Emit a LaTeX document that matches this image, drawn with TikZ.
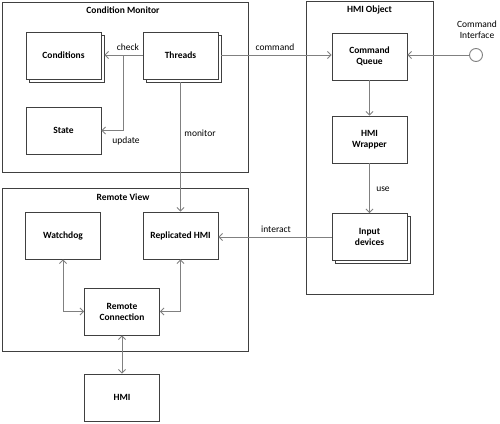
\documentclass[tikz,border=0pt]{standalone}
\usepackage{fontspec}
\setmainfont{Carlito}
\usetikzlibrary{arrows.meta}
\usetikzlibrary{shadows}
\usetikzlibrary{calc}

\begin{document}
\begin{tikzpicture}[x=1pt, y=-1pt,
		font=\fontsize{9.5}{11}\selectfont,
		frame/.style={draw=black!75, line width=0.9pt},
		title/.style={font=\fontsize{9.5}{11}\selectfont\bfseries},
		box/.style={draw=black!75, line width=0.9pt, fill=white, minimum width=75pt, minimum height=47pt, align=center, font=\fontsize{9.5}{11}\selectfont\bfseries},
		stackbox/.style={box, copy shadow={shadow xshift=3pt, shadow yshift=-3pt, draw=black!75, line width=0.9pt, fill=white}},
		conn/.style={draw=black!50, line width=0.9pt},
		tip/.style={-{Straight Barb[length=3.5pt, width=7pt]}},
		both/.style={{Straight Barb[length=3.5pt, width=7pt]}-{Straight Barb[length=3.5pt, width=7pt]}}]
		\useasboundingbox (0,0) rectangle (500,423);
		% frames
		\draw[frame] (2,2) rectangle (248,172);
		\node[title] (cmtitle) at (123,10) {Condition Monitor};
		\draw[frame] (306,1) rectangle (433,294);
		\node[title] (hotitle) at (369.5,10) {HMI Object};
		\draw[frame] (2,188) rectangle (248,351);
		\node[title] (rvtitle) at (123,197) {Remote View};
		% boxes
		\node[stackbox] (cond) at (63.5,55.5) {Conditions};
		\node[stackbox] (threads) at (180.5,55.5) {Threads};
		\node[box] (state) at (63.5,130.5) {State};
		\node[box] (queue) at (369.5,56.5) {Command\\Queue};
		\node[box] (wrapper) at (369.5,139.5) {HMI\\Wrapper};
		\node[stackbox] (input) at (369.5,237) {Input\\devices};
		\node[box] (watchdog) at (63,235.5) {Watchdog};
		\node[box] (replica) at (180.5,235.5) {Replicated HMI};
		\node[box] (remote) at (122,311.5) {Remote\\Connection};
		\node[box] (hmi) at (122,397.5) {HMI};
		\node[draw=black!50, line width=0.9pt, circle, fill=white, minimum size=13pt, inner sep=0pt] (iface) at (476,55) {};
		\node[align=center] (ifacelbl) at (477,30) {Command\\Interface};
		% connectors
		\coordinate (split) at (123,55);
		\draw[conn, tip] (threads.west |- split) -- ($(cond.east |- split)+(3,0)$);
		\draw[conn, tip] (split) |- (state.east);
		\node (checklbl) at (128,47) {check};
		\node (updatelbl) at (126,141) {update};
		\draw[conn, tip] ($(threads.east |- split)+(3,0)$) -- (queue.west |- split);
		\node (commandlbl) at (275,47) {command};
		\draw[conn, tip] (threads.south |- 0,82) -- (replica.north);
		\node (monitorlbl) at (200,133) {monitor};
		\draw[conn, tip] (iface.west) -- (queue.east |- iface.west);
		\draw[conn, tip] (queue.south) -- (wrapper.north);
		\draw[conn, tip] (wrapper.south) -- (input.north);
		\node (uselbl) at (383,189) {use};
		\draw[conn, tip] (input.west) -- (replica.east |- input.west);
		\node (interactlbl) at (276,229) {interact};
		\draw[conn, both] (watchdog.south) |- (remote.west);
		\draw[conn, both] (replica.south) |- (remote.east);
		\draw[conn, both] (remote.south) -- (hmi.north);
	\end{tikzpicture}
\end{document}
